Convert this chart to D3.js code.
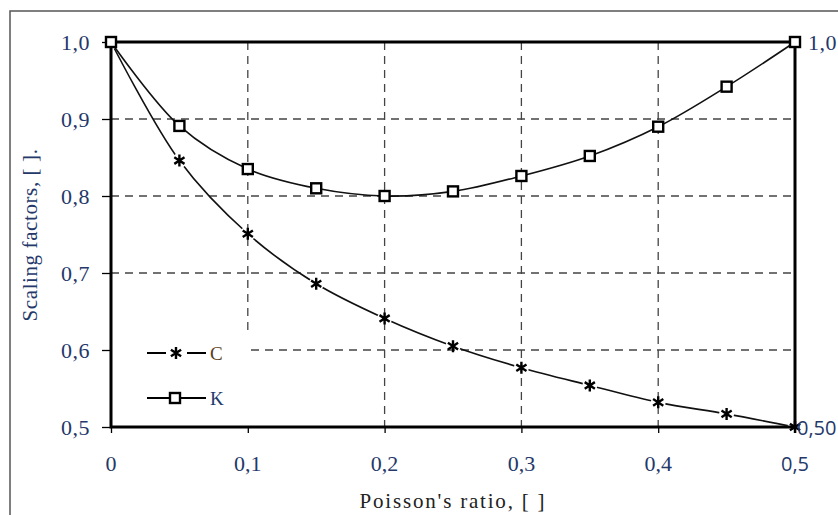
<!DOCTYPE html>
<html><head><meta charset="utf-8">
<script src="https://cdn.jsdelivr.net/npm/d3@7"></script>
<style>body{margin:0;background:#fff}svg{display:block}
.serif{font-family:"Liberation Serif","DejaVu Serif",serif}
.sans{font-family:"Open Sans","Noto Sans",sans-serif}
</style>
</head><body>
<script>
const nu = [0, 0.05, 0.1, 0.15, 0.2, 0.25, 0.3, 0.35, 0.4, 0.45, 0.5];
const seriesC = [1.0, 0.846, 0.751, 0.686, 0.641, 0.605, 0.577, 0.554, 0.532, 0.517, 0.50];
const seriesK = [1.0, 0.891, 0.835, 0.810, 0.800, 0.806, 0.826, 0.852, 0.890, 0.942, 1.0];
const xTicks = [0, 0.1, 0.2, 0.3, 0.4, 0.5];
const xTickLabels = ["0", "0,1", "0,2", "0,3", "0,4", "0,5"];
const yTicks = [0.5, 0.6, 0.7, 0.8, 0.9, 1.0];
const yTickLabels = ["0,5", "0,6", "0,7", "0,8", "0,9", "1,0"];
const legendNames = ["C", "K"];

const W = 838, H = 515;
const navy = "#24386a";
const svg = d3.select("body").append("svg").attr("width", W).attr("height", H);

// outer frame
svg.append("rect").attr("x", 10).attr("y", 11).attr("width", W + 20).attr("height", H + 20)
  .attr("fill", "none").attr("stroke", "#555").attr("stroke-width", 1.5);

const x = d3.scaleLinear().domain([0, 0.5]).range([111, 795]);
const y = d3.scaleLinear().domain([0.5, 1.0]).range([427, 42]);

// gridlines
const grid = svg.append("g").attr("stroke", "#444").attr("stroke-width", 1.3).attr("stroke-dasharray", "8,6");
xTicks.slice(1, -1).forEach(t => grid.append("line").attr("x1", x(t)).attr("x2", x(t)).attr("y1", y(1.0)).attr("y2", y(0.5)));
yTicks.slice(1, -1).forEach(t => grid.append("line").attr("x1", x(0)).attr("x2", x(0.5)).attr("y1", y(t)).attr("y2", y(t)));

// legend background covering the grid
svg.append("rect").attr("x", x(0)).attr("y", 334).attr("width", 138).attr("height", y(0.5) - 334).attr("fill", "#fff");

// axes
const xAxis = d3.axisBottom(x).tickValues(xTicks).tickSize(6).tickFormat(() => "");
const yAxis = d3.axisLeft(y).tickValues(yTicks).tickSize(9).tickFormat(() => "");
const gx = svg.append("g").attr("transform", `translate(0,${y(0.5)})`).call(xAxis);
const gy = svg.append("g").attr("transform", `translate(${x(0)},0)`).call(yAxis);
[gx, gy].forEach(g => { g.select(".domain").remove(); g.selectAll("line").attr("stroke", "#000").attr("stroke-width", 1.3); });

function txt(sel, cls, size, ls) {
  return sel.attr("class", cls).style("font-size", size + "px").style("letter-spacing", (ls || 0) + "px");
}

// tick labels
svg.append("g").selectAll("text").data(xTicks).join("text")
  .attr("x", d => x(d)).attr("y", 471).attr("text-anchor", "middle")
  .attr("class", (d, i) => i === xTicks.length - 1 ? "sans" : "serif")
  .style("font-size", (d, i) => i === xTicks.length - 1 ? "20px" : "22px")
  .attr("fill", navy).text((d, i) => xTickLabels[i]);
txt(svg.append("g").selectAll("text").data(yTicks).join("text")
  .attr("x", 90).attr("y", d => y(d) + 7.5).attr("text-anchor", "end"), "serif", 22, 0.5)
  .attr("fill", navy).text((d, i) => yTickLabels[i]);

// frame of plot area
svg.append("rect").attr("x", x(0)).attr("y", y(1.0)).attr("width", x(0.5) - x(0)).attr("height", y(0.5) - y(1.0))
  .attr("fill", "none").attr("stroke", "#000").attr("stroke-width", 3);

// titles
txt(svg.append("text").attr("x", 453).attr("y", 508).attr("text-anchor", "middle"), "serif", 21, 1.8)
  .attr("fill", "#222").text("Poisson's ratio, [ ]");
txt(svg.append("text").attr("transform", "translate(37,235) rotate(-90)").attr("text-anchor", "middle"), "serif", 21, 0.6)
  .attr("fill", navy).text("Scaling factors, [ ].");

// mask to break C line around asterisks
const defs = svg.append("defs");
const mask = defs.append("mask").attr("id", "cmask").attr("maskUnits", "userSpaceOnUse")
  .attr("x", 0).attr("y", 0).attr("width", W).attr("height", H);
mask.append("rect").attr("width", W).attr("height", H).attr("fill", "#fff");
mask.selectAll("circle").data(nu).join("circle").attr("cx", d => x(d)).attr("cy", (d, i) => y(seriesC[i])).attr("r", 7.5).attr("fill", "#000");

const line = d3.line().curve(d3.curveCatmullRom.alpha(0.5));
const ptsC = nu.map((d, i) => [x(d), y(seriesC[i])]);
const ptsK = nu.map((d, i) => [x(d), y(seriesK[i])]);

svg.append("path").attr("d", line(ptsC)).attr("fill", "none").attr("stroke", "#111").attr("stroke-width", 1.6).attr("mask", "url(#cmask)");
svg.append("path").attr("d", line(ptsK)).attr("fill", "none").attr("stroke", "#111").attr("stroke-width", 1.6);

function asterisk(g, cx, cy) {
  const s = 6;
  const p = `M${cx},${cy - s}L${cx},${cy + s}M${cx - s * 0.85},${cy - s * 0.55}L${cx + s * 0.85},${cy + s * 0.55}M${cx - s * 0.85},${cy + s * 0.55}L${cx + s * 0.85},${cy - s * 0.55}`;
  g.append("path").attr("d", p).attr("stroke", "#000").attr("stroke-width", 2.4).attr("fill", "none");
}
function square(g, cx, cy) {
  g.append("rect").attr("x", cx - 5).attr("y", cy - 5).attr("width", 10).attr("height", 10)
    .attr("fill", "#fff").attr("stroke", "#000").attr("stroke-width", 2.4);
}
const mk = svg.append("g");
ptsC.forEach(p => asterisk(mk, p[0], p[1]));
ptsK.forEach(p => square(mk, p[0], p[1]));

// data labels at right edge
txt(svg.append("text").attr("x", 808).attr("y", y(seriesK[seriesK.length - 1]) + 7.5), "serif", 22, 0.5)
  .attr("fill", navy).text(d3.format(".1f")(seriesK[seriesK.length - 1]).replace(".", ","));
txt(svg.append("text").attr("x", 797).attr("y", y(seriesC[seriesC.length - 1]) + 7.5), "sans", 20)
  .attr("fill", navy).text(d3.format(".2f")(seriesC[seriesC.length - 1]).replace(".", ","));

// legend
const leg = svg.append("g");
const legY = [353, 398];
legendNames.forEach((n, i) => {
  const ly = legY[i];
  if (i === 0) {
    leg.append("line").attr("x1", 147).attr("x2", 166).attr("y1", ly).attr("y2", ly).attr("stroke", "#000").attr("stroke-width", 2);
    leg.append("line").attr("x1", 187).attr("x2", 206).attr("y1", ly).attr("y2", ly).attr("stroke", "#000").attr("stroke-width", 2);
    asterisk(leg, 176, ly);
  } else {
    leg.append("line").attr("x1", 147).attr("x2", 206).attr("y1", ly).attr("y2", ly).attr("stroke", "#000").attr("stroke-width", 2);
    square(leg, 175, ly);
  }
  txt(leg.append("text").attr("x", 210).attr("y", ly + 6.5), "serif", 19)
    .attr("fill", i === 0 ? "#5a4020" : navy).text(n);
});
</script>
</body></html>
